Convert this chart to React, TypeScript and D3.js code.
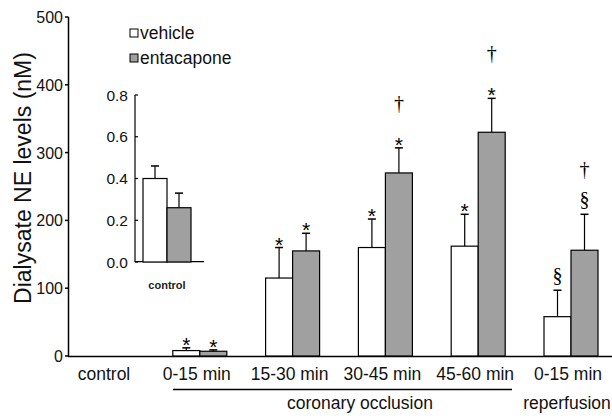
import React from "react";
import * as d3 from "d3";

// Dialysate norepinephrine (nM), mean and mean + SEM
const categories = ["control", "0-15 min", "15-30 min", "30-45 min", "45-60 min", "0-15 min "];
const vehicle = [0.4, 8, 115, 160, 162, 58];
const vehicleUpper = [0.46, 12, 160, 202, 209, 97];
const entacapone = [0.26, 7, 155, 270, 330, 156];
const entacaponeUpper = [0.33, 9, 181, 307, 380, 209];
const vehicleMarks = [[], ["*"], ["*"], ["*"], ["*"], ["§"]];
const entacaponeMarks = [[], ["*"], ["*"], ["*", "†"], ["*", "†"], ["§", "†"]];
const yTicks = [0, 100, 200, 300, 400, 500];
const insetTicks = [0.0, 0.2, 0.4, 0.6, 0.8];

const W = 612;
const H = 419;
const FONT = "Liberation Sans, Arial, sans-serif";
const SERIF = "Liberation Serif, Times New Roman, serif";
const GRAY = "#a0a0a0";

export default function App() {
  const y = d3.scaleLinear().domain([0, 500]).range([356, 17]);
  const x = d3.scalePoint<string>().domain(categories).range([107, 571]);
  const bw = 27;

  const iy = d3.scaleLinear().domain([0, 0.8]).range([262, 95]);
  const ix0 = 143;
  const ibw = 24;

  const bars: React.ReactNode[] = [];
  const marks: React.ReactNode[] = [];
  categories.forEach((c, i) => {
    const cx = x(c)!;
    const series = [
      { v: vehicle[i], u: vehicleUpper[i], fill: "#fff", x0: cx - bw, m: vehicleMarks[i] },
      { v: entacapone[i], u: entacaponeUpper[i], fill: GRAY, x0: cx, m: entacaponeMarks[i] },
    ];
    series.forEach((s, j) => {
      if (i === 0) return;
      const mid = s.x0 + bw / 2;
      bars.push(
        <g key={`b${i}-${j}`}>
          <line x1={mid} x2={mid} y1={y(s.v)} y2={y(s.u)} stroke="#000" strokeWidth={1.2} />
          <line x1={mid - 4} x2={mid + 4} y1={y(s.u)} y2={y(s.u)} stroke="#000" strokeWidth={1.5} />
          <rect x={s.x0} y={y(s.v)} width={bw} height={y(0) - y(s.v)} fill={s.fill} stroke="#000" strokeWidth={1.2} />
        </g>
      );
      s.m.forEach((t, k) => {
        const ty = y(s.u) - 8 - k * 30;
        marks.push(
          <text
            key={`m${i}-${j}-${k}`}
            x={mid}
            y={t === "*" ? ty + 12 : ty}
            textAnchor="middle"
            fontFamily={t === "*" ? FONT : SERIF}
            fontSize={t === "*" ? 21 : 20}
            fill="#000"
          >
            {t}
          </text>
        );
      });
    });
  });

  const inset = [
    { v: vehicle[0], u: vehicleUpper[0], fill: "#fff", x0: ix0 },
    { v: entacapone[0], u: entacaponeUpper[0], fill: GRAY, x0: ix0 + ibw },
  ];

  return (
    <svg width={W} height={H} style={{ position: "absolute", left: 0, top: 0, background: "#fff" }}>
      {/* main y axis */}
      <line x1={68.5} x2={68.5} y1={17} y2={357} stroke="#000" strokeWidth={1.5} />
      {yTicks.map((t) => (
        <g key={t}>
          <line x1={65} x2={68.5} y1={y(t)} y2={y(t)} stroke="#000" strokeWidth={1.5} />
          <text x={63} y={y(t) + 6} textAnchor="end" fontFamily={FONT} fontSize={16} fill="#111">
            {t}
          </text>
        </g>
      ))}
      <text
        transform="translate(31,178) rotate(-90)"
        textAnchor="middle"
        fontFamily={FONT}
        fontSize={23}
        fill="#111"
      >
        Dialysate NE levels (nM)
      </text>
      {/* main x axis */}
      <line x1={68} x2={612} y1={356.5} y2={356.5} stroke="#000" strokeWidth={1.5} />
      {categories.map((c) => (
        <text key={c} x={x(c)! - 3} y={380} textAnchor="middle" fontFamily={FONT} fontSize={17.5} fill="#111">
          {c.trim()}
        </text>
      ))}
      <line x1={173} x2={512} y1={389.5} y2={389.5} stroke="#000" strokeWidth={1.5} />
      <text x={360} y={409} textAnchor="middle" fontFamily={FONT} fontSize={17.5} fill="#111">
        coronary occlusion
      </text>
      <text x={567} y={409} textAnchor="middle" fontFamily={FONT} fontSize={17.5} fill="#111">
        reperfusion
      </text>

      {bars}
      {marks}

      {/* legend */}
      <rect x={130} y={29} width={8} height={8} fill="#fff" stroke="#000" strokeWidth={1} />
      <text x={140} y={39} fontFamily={FONT} fontSize={17.5} fill="#111">vehicle</text>
      <rect x={130} y={54} width={8} height={8} fill={GRAY} stroke="#000" strokeWidth={1} />
      <text x={140} y={64} fontFamily={FONT} fontSize={17.5} fill="#111">entacapone</text>

      {/* inset: control values on expanded scale */}
      <line x1={135} x2={135} y1={95} y2={262} stroke="#000" strokeWidth={1.2} />
      {insetTicks.map((t) => (
        <g key={t}>
          <line x1={135} x2={138} y1={iy(t)} y2={iy(t)} stroke="#000" strokeWidth={1.2} />
          <text x={128} y={iy(t) + 5.5} textAnchor="end" fontFamily={FONT} fontSize={15.5} fill="#111">
            {t.toFixed(1)}
          </text>
        </g>
      ))}
      <line x1={135} x2={204} y1={261.7} y2={261.7} stroke="#000" strokeWidth={1.2} />
      {inset.map((s, j) => {
        const mid = s.x0 + ibw / 2;
        return (
          <g key={`i${j}`}>
            <line x1={mid} x2={mid} y1={iy(s.v)} y2={iy(s.u)} stroke="#000" strokeWidth={1.2} />
            <line x1={mid - 4} x2={mid + 4} y1={iy(s.u)} y2={iy(s.u)} stroke="#000" strokeWidth={1.5} />
            <rect x={s.x0} y={iy(s.v)} width={ibw} height={iy(0) - iy(s.v)} fill={s.fill} stroke="#000" strokeWidth={1.2} />
          </g>
        );
      })}
      <text x={167} y={289} textAnchor="middle" fontFamily={FONT} fontSize={11} fontWeight="bold" fill="#222">
        control
      </text>
    </svg>
  );
}
